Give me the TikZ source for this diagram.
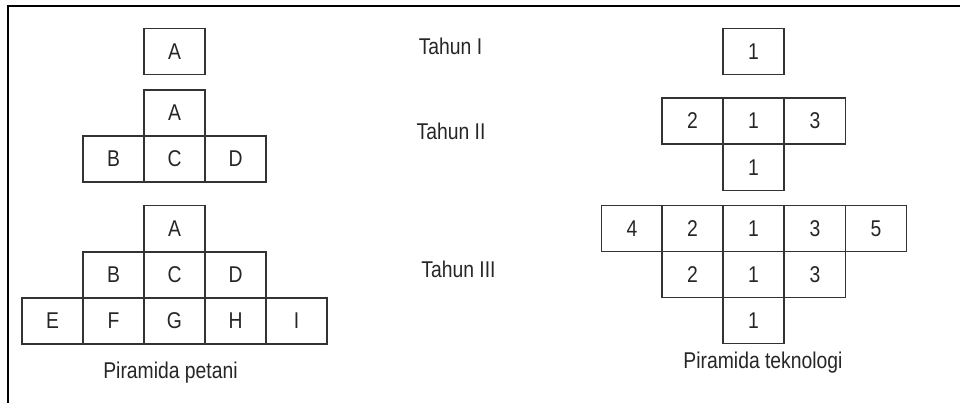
\documentclass[tikz,border=0pt]{standalone}
\usepackage{fontspec}
\setmainfont{Liberation Sans}
% glyphs in this drawing are set slightly taller than wide
\newcommand\tallglyphs[1]{\scalebox{1}[1.18]{#1}}
\begin{document}
\begin{tikzpicture}[x=0.75pt,y=-0.75pt,
  every node/.style={font=\fontsize{14.5}{17}\selectfont, text=black!85},
  cell/.style={draw=black!80, line width=0.95pt, minimum width=45.75pt,
    minimum height=34.5pt, inner sep=0pt},
  caption/.style={anchor=base, inner sep=0pt},
  frame/.style={line width=1.7pt, black}]
\useasboundingbox (0,0) rectangle (960,403);
% outer frame: top rule and left rule
\coordinate (fTL) at (8,6);
\coordinate (fTR) at (960,6);
\coordinate (fBL) at (8,403);
\draw[frame] (fTR) -- (fTL) -- (fBL);

% farmer pyramid, year I
\node[cell] (p1a) at (174.5,51.5) {\tallglyphs{A}};
% year II
\node[cell] (p2a) at (174.5,113) {\tallglyphs{A}};
\node[cell] (p2b) at (113.5,159) {\tallglyphs{B}};
\node[cell] (p2c) at (174.5,159) {\tallglyphs{C}};
\node[cell] (p2d) at (235.5,159) {\tallglyphs{D}};
% year III
\node[cell] (p3a) at (174.5,228.5) {\tallglyphs{A}};
\node[cell] (p3b) at (113.5,275) {\tallglyphs{B}};
\node[cell] (p3c) at (174.5,275) {\tallglyphs{C}};
\node[cell] (p3d) at (235.5,275) {\tallglyphs{D}};
\node[cell] (p3e) at (52.5,321) {\tallglyphs{E}};
\node[cell] (p3f) at (113.5,321) {\tallglyphs{F}};
\node[cell] (p3g) at (174.5,321) {\tallglyphs{G}};
\node[cell] (p3h) at (235.5,321) {\tallglyphs{H}};
\node[cell] (p3i) at (296.5,321) {\tallglyphs{I}};
\node[caption] (capL) at (170.5,378) {\tallglyphs{Piramida petani}};

% year labels
\node[caption] (y1) at (450.5,55) {\tallglyphs{Tahun I}};
\node[caption] (y2) at (451,139) {\tallglyphs{Tahun II}};
\node[caption] (y3) at (458.5,277) {\tallglyphs{Tahun III}};

% technology pyramid, year I
\node[cell] (t1a) at (753.5,51.5) {\tallglyphs{1}};
% year II
\node[cell] (t2b) at (692.5,121) {\tallglyphs{2}};
\node[cell] (t2a) at (753.5,121) {\tallglyphs{1}};
\node[cell] (t2c) at (815,121) {\tallglyphs{3}};
\node[cell] (t2d) at (753.5,167.5) {\tallglyphs{1}};
% year III
\node[cell] (t3d) at (632,228.5) {\tallglyphs{4}};
\node[cell] (t3b) at (692.5,228.5) {\tallglyphs{2}};
\node[cell] (t3a) at (753.5,228.5) {\tallglyphs{1}};
\node[cell] (t3c) at (815,228.5) {\tallglyphs{3}};
\node[cell] (t3e) at (876,228.5) {\tallglyphs{5}};
\node[cell] (t3f) at (692.5,274.5) {\tallglyphs{2}};
\node[cell] (t3g) at (753.5,274.5) {\tallglyphs{1}};
\node[cell] (t3h) at (815,274.5) {\tallglyphs{3}};
\node[cell] (t3i) at (753.5,320.5) {\tallglyphs{1}};
\node[caption] (capR) at (763,368) {\tallglyphs{Piramida teknologi}};
\end{tikzpicture}
\end{document}
